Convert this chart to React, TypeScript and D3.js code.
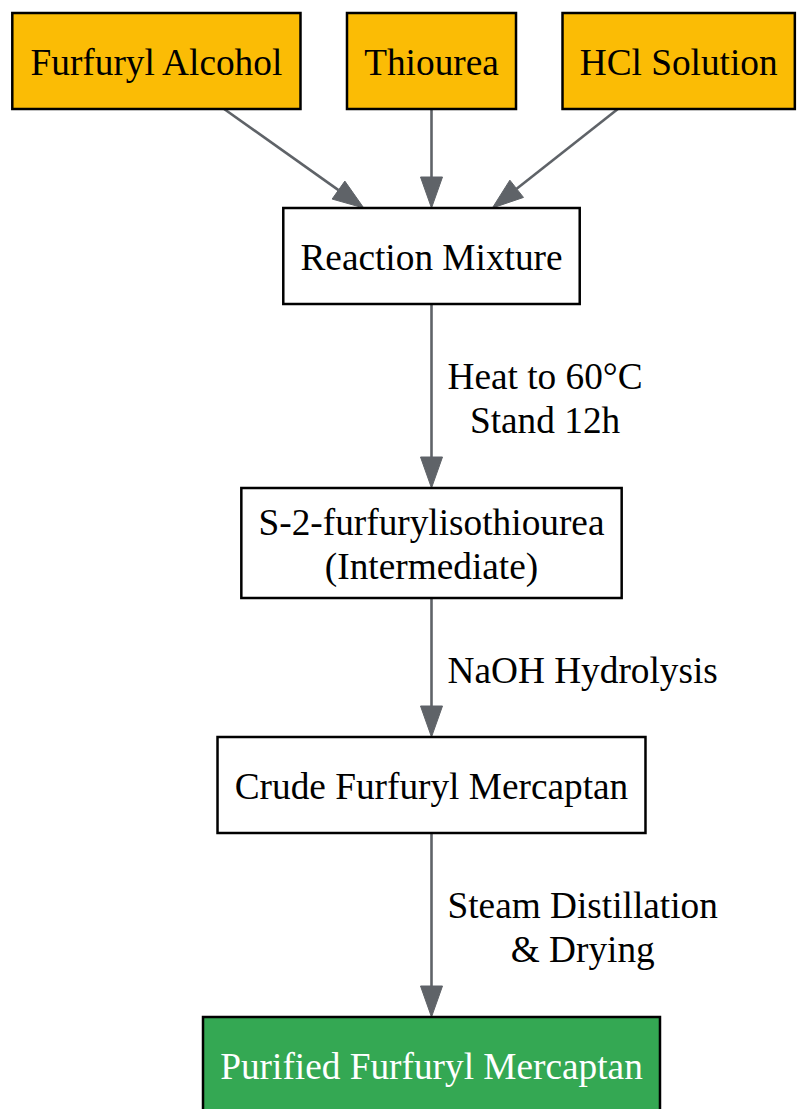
import React, { useMemo } from "react";
import * as d3 from "d3";

// ---- data ----
const nodeIds = ["fa", "th", "hcl", "rm", "s2", "crude", "pure"];
const nodeLabels: string[][] = [
  ["Furfuryl Alcohol"],
  ["Thiourea"],
  ["HCl Solution"],
  ["Reaction Mixture"],
  ["S-2-furfurylisothiourea", "(Intermediate)"],
  ["Crude Furfuryl Mercaptan"],
  ["Purified Furfuryl Mercaptan"],
];
const nodeKinds = ["input", "input", "input", "process", "process", "process", "product"];
const nodeRanks = [0, 0, 0, 1, 2, 3, 4];

const edgeSources = ["fa", "th", "hcl", "rm", "s2", "crude"];
const edgeTargets = ["rm", "rm", "rm", "s2", "crude", "pure"];
const edgeLabels: string[][] = [
  [],
  [],
  [],
  ["Heat to 60°C", "Stand 12h"],
  ["NaOH Hydrolysis"],
  ["Steam Distillation", "& Drying"],
];

// ---- style ----
const FONT = "'Liberation Serif', 'Times New Roman', serif";
const FS = 37.3;
const LINE = 44.4;
const PADX = 17.2;
const NODESEP = 46.5;
const CHAIN_X = 431.5;
const TOP = 13;
const fills: Record<string, string> = { input: "#FBBC05", process: "#FFFFFF", product: "#34A853" };
const textFills: Record<string, string> = { input: "#000000", process: "#000000", product: "#FFFFFF" };
const EDGE = "#5F6368";

function measure(s: string) {
  const c = document.createElement("canvas");
  const ctx = c.getContext("2d")!;
  ctx.font = `${FS}px ${FONT}`;
  return ctx.measureText(s).width;
}

export default function App() {
  const layout = useMemo(() => {
    const nodes = nodeIds.map((id, i) => {
      const lines = nodeLabels[i];
      const tw = d3.max(lines, (l) => measure(l)) || 0;
      const w = tw + 2 * PADX;
      const h = Math.max(96, lines.length * LINE + 21.2);
      return { id, lines, kind: nodeKinds[i], rank: nodeRanks[i], w, h, x: 0, y: 0 };
    });
    const byId = new Map(nodes.map((n) => [n.id, n]));
    const nRanks = (d3.max(nodeRanks) || 0) + 1;
    const rankH: number[] = [];
    for (let r = 0; r < nRanks; r++) rankH.push(d3.max(nodes.filter((n) => n.rank === r), (n) => n.h) || 0);
    const rankLabelLines: number[] = new Array(nRanks).fill(0);
    edgeTargets.forEach((t, i) => {
      const r = byId.get(t)!.rank;
      rankLabelLines[r] = Math.max(rankLabelLines[r], edgeLabels[i].length);
    });
    const rankTop: number[] = [];
    let y = TOP;
    for (let r = 0; r < nRanks; r++) {
      if (r > 0) {
        const n = rankLabelLines[r];
        y += 99 + (n > 0 ? 40 + (n - 1) * 45 : 0);
      }
      rankTop.push(y);
      y += rankH[r];
    }
    for (let r = 0; r < nRanks; r++) {
      const row = nodes.filter((n) => n.rank === r);
      const midIdx = Math.floor(row.length / 2);
      row.forEach((n) => {
        n.y = rankTop[r] + n.h / 2;
      });
      row[midIdx].x = CHAIN_X;
      for (let k = midIdx - 1; k >= 0; k--) {
        row[k].x = row[k + 1].x - row[k + 1].w / 2 - NODESEP - row[k].w / 2;
      }
      for (let k = midIdx + 1; k < row.length; k++) {
        row[k].x = row[k - 1].x + row[k - 1].w / 2 + NODESEP + row[k].w / 2;
      }
    }
    const clip = (n: any, dx: number, dy: number) => {
      const s = Math.min(
        dx === 0 ? Infinity : n.w / 2 / Math.abs(dx),
        dy === 0 ? Infinity : n.h / 2 / Math.abs(dy)
      );
      return [n.x + dx * s, n.y + dy * s];
    };
    const AL = 31;
    const AW = 11;
    const edges = edgeSources.map((s, i) => {
      const a = byId.get(s)!;
      const b = byId.get(edgeTargets[i])!;
      const dx = b.x - a.x;
      const dy = b.y - a.y;
      const p0 = clip(a, dx, dy);
      const tip = clip(b, -dx, -dy);
      const len = Math.hypot(dx, dy);
      const ux = dx / len;
      const uy = dy / len;
      const base = [tip[0] - ux * AL, tip[1] - uy * AL];
      const head = [
        tip,
        [base[0] - uy * AW, base[1] + ux * AW],
        [base[0] + uy * AW, base[1] - ux * AW],
      ];
      const lbl = edgeLabels[i];
      const lw = d3.max(lbl, (l) => measure(l)) || 0;
      const midY = (p0[1] + tip[1]) / 2;
      const lcx = p0[0] + 16 + lw / 2;
      return { line: [p0, base], head, lbl, lcx, midY, key: s + "-" + edgeTargets[i] };
    });
    return { nodes, edges };
  }, []);

  const lineGen = d3.line();

  return (
    <svg
      width={797}
      height={1109}
      style={{ position: "absolute", left: 0, top: 0, background: "#fff" }}
      fontFamily={FONT}
    >
      <rect x={0} y={0} width={797} height={1109} fill="#fff" />
      {layout.edges.map((e) => (
        <g key={e.key}>
          <path d={lineGen(e.line as [number, number][]) || ""} stroke={EDGE} strokeWidth={2.6} fill="none" />
          <polygon points={e.head.map((p) => p.join(",")).join(" ")} fill={EDGE} stroke={EDGE} strokeWidth={1} />
          {e.lbl.map((l, k) => (
            <text
              key={k}
              x={e.lcx}
              y={e.midY + 15 + (k - (e.lbl.length - 1) / 2) * LINE}
              textAnchor="middle"
              fontSize={FS}
              fill="#000"
            >
              {l}
            </text>
          ))}
        </g>
      ))}
      {layout.nodes.map((n) => (
        <g key={n.id}>
          <rect
            x={n.x - n.w / 2}
            y={n.y - n.h / 2}
            width={n.w}
            height={n.h}
            fill={fills[n.kind]}
            stroke="#000"
            strokeWidth={2.5}
          />
          {n.lines.map((l, k) => (
            <text
              key={k}
              x={n.x}
              y={n.y + 14 + (k - (n.lines.length - 1) / 2) * LINE}
              textAnchor="middle"
              fontSize={FS}
              fill={textFills[n.kind]}
            >
              {l}
            </text>
          ))}
        </g>
      ))}
    </svg>
  );
}
